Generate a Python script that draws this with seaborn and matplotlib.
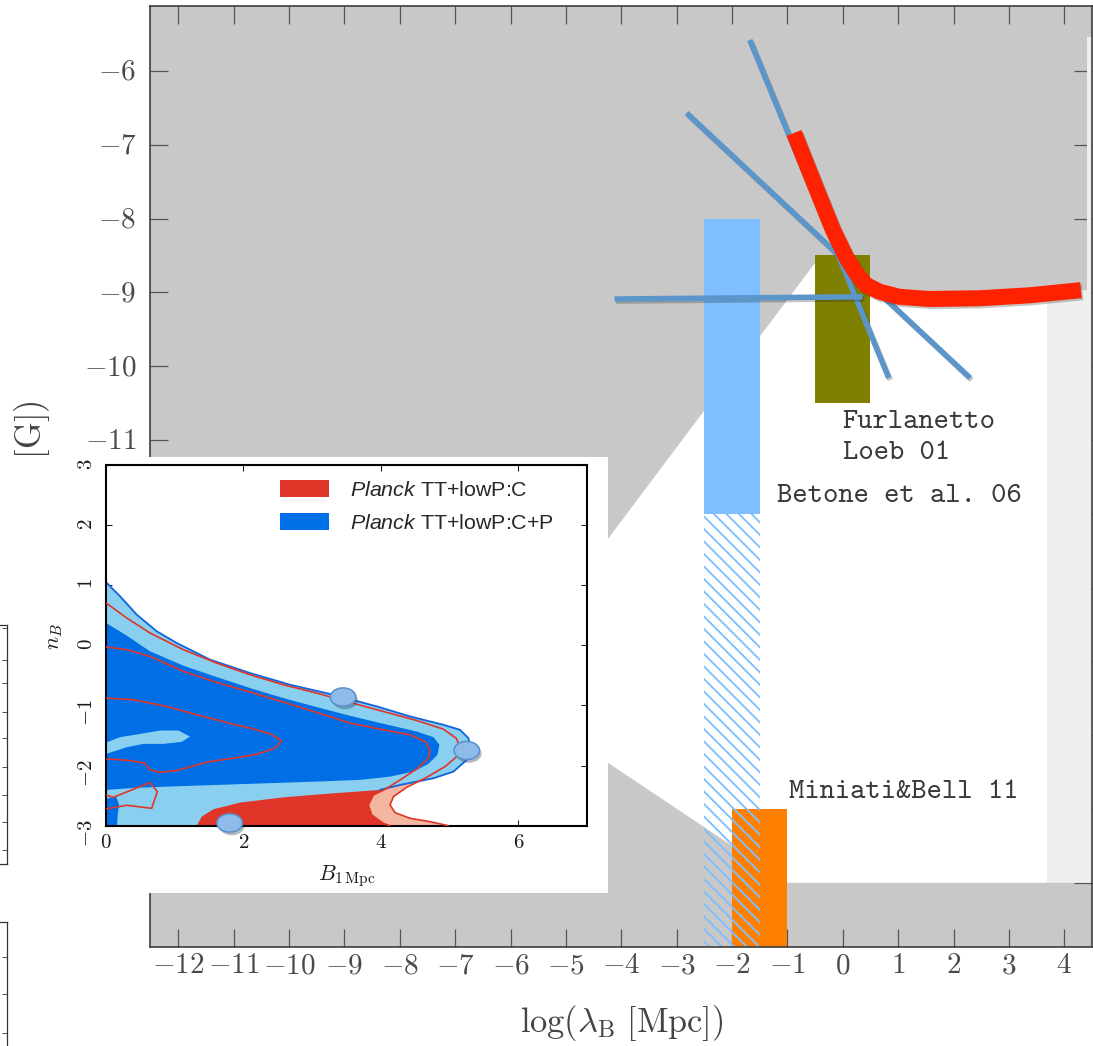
import matplotlib
matplotlib.use("Agg")
import matplotlib.pyplot as plt
import matplotlib.patheffects as pe
from matplotlib.patches import Patch
from matplotlib.path import Path
import numpy as np
import seaborn as sns

# ---------------- main plane: log(lambda_B) vs log(B) ----------------
x_ticks = list(range(-12, 5))
x_tick_labels = ["$-12$", "$-11$", "$-10$", "$-9$", "$-8$", "$-7$", "$-6$", "$-5$", "$-4$",
                 "$-3$", "$-2$", "$-1$", "$0$", "$1$", "$2$", "$3$", "$4$"]
y_ticks = list(range(-17, -5))
y_tick_labels = ["", "", "", "", "", "", "$-11$", "$-10$", "$-9$", "$-8$", "$-7$", "$-6$"]

# upper limit (thick red curve)
limit_lam = [-0.88, -0.54, -0.18, 0.06, 0.24, 0.42, 0.66, 1.02, 1.56, 2.47, 3.37, 4.30]
limit_B = [-6.84, -7.48, -8.15, -8.52, -8.74, -8.90, -8.99, -9.06, -9.09, -9.08, -9.04, -8.97]

# straight blue constraint lines
steep_lam = [-1.68, 0.83]
steep_B = [-5.58, -10.16]
slant_lam = [-2.82, 2.30]
slant_B = [-6.57, -10.16]
flat_lam = [-4.12, 0.36]
flat_B = [-9.09, -9.06]

# allowed (white) region and the pale strip on the right
allowed_lam = [-6.26, -0.40, 0.24, 0.42, 0.66, 1.02, 1.56, 2.47, 3.37, 3.70, 3.70, -1.00]
allowed_B = [-14.36, -8.50, -8.74, -8.90, -8.99, -9.06, -9.09, -9.08, -9.04, -9.02, -17.00, -17.00]
edge_lam = [3.70, 3.70, 4.30, 4.41, 4.41, 4.60, 4.60]
edge_B = [-17.00, -9.02, -8.97, -8.97, -5.54, -5.54, -17.00]

# observational boxes: Betone et al. 06, Furlanetto & Loeb 01, Miniati & Bell 11
betone_lam = [-2.5, -1.5]
betone_B = [-12.0, -8.0]
betone_hatch_B = [-18.0, -12.0]
furlanetto_lam = [-0.5, 0.5]
furlanetto_B = [-10.5, -8.5]
miniati_lam = [-2.0, -1.0]
miniati_B = [-18.0, -16.0]

# ---------------- inset: B_1Mpc vs n_B ----------------
inset_x_ticks = [0, 2, 4, 6]
inset_x_labels = ["$0$", "$2$", "$4$", "$6$"]
inset_y_ticks = [-3, -2, -1, 0, 1, 2, 3]
inset_y_labels = ["$-3$", "$-2$", "$-1$", "$0$", "$1$", "$2$", "$3$"]

# C+P, 95% region (light blue)
cp95_B = [0.0, 0.204, 0.446, 0.738, 1.029, 1.514, 2.096, 2.678, 3.309, 3.940, 4.425, 4.910,
          5.153, 5.274, 5.308, 5.250, 5.056, 4.765, 4.280, 3.988, 3.309, 2.581, 1.950,
          1.562, 1.393, 1.320, 0.0]
cp95_n = [1.05, 0.817, 0.512, 0.234, 0.039, -0.238, -0.461, -0.655, -0.822, -1.016, -1.183,
          -1.322, -1.405, -1.544, -1.711, -1.905, -2.100, -2.211, -2.322, -2.405, -2.461,
          -2.528, -2.616, -2.727, -2.849, -3.0, -3.0]
# C+P, 68% region (dark blue)
cp68_B = [0.0, 0.301, 0.640, 1.126, 1.611, 2.096, 2.581, 3.066, 3.552, 4.037, 4.522, 4.765,
          4.852, 4.823, 4.692, 4.474, 4.134, 3.697, 3.066, 2.339, 1.611, 0.883, 0.398, 0.0]
cp68_n = [0.373, 0.162, -0.099, -0.338, -0.527, -0.711, -0.877, -1.027, -1.172, -1.305,
          -1.433, -1.527, -1.655, -1.822, -1.972, -2.100, -2.183, -2.238, -2.266, -2.294,
          -2.322, -2.350, -2.372, -2.405]
cp68_low_B = [0.0, 0.15, 0.19, 0.17, 0.16, 0.0]
cp68_low_n = [-2.55, -2.52, -2.65, -2.82, -3.0, -3.0]
# 95% hole inside the dark blue region
cp_hole_B = [0.0, 0.204, 0.495, 0.786, 1.053, 1.223, 1.101, 0.835, 0.543, 0.301, 0.107, 0.0]
cp_hole_n = [-1.617, -1.528, -1.473, -1.417, -1.417, -1.517, -1.605, -1.639, -1.639,
             -1.695, -1.767, -1.806]

# C only, 95% (salmon) and 68% (red) regions
c95_B = [0.0, 0.301, 0.640, 1.126, 1.611, 2.096, 2.581, 3.066, 3.552, 4.037, 4.522, 4.910,
         5.095, 5.153, 5.104, 4.935, 4.668, 4.377, 4.183, 4.134, 4.207, 4.425, 4.716, 4.983]
c95_n = [0.706, 0.456, 0.206, -0.072, -0.294, -0.489, -0.655, -0.794, -0.950, -1.100,
         -1.250, -1.394, -1.544, -1.694, -1.850, -2.016, -2.195, -2.361, -2.516, -2.655,
         -2.783, -2.877, -2.933, -3.0]
c68_B = [0.0, 0.301, 0.640, 1.126, 1.611, 2.096, 2.581, 3.066, 3.552, 4.037, 4.425, 4.643,
         4.716, 4.692, 4.522, 4.280, 4.061, 3.891, 3.819, 3.867, 4.037, 4.134]
c68_n = [-0.028, -0.072, -0.183, -0.433, -0.616, -0.777, -0.944, -1.116, -1.294, -1.405,
         -1.489, -1.600, -1.739, -1.878, -2.055, -2.239, -2.395, -2.489, -2.655, -2.822,
         -2.961, -3.0]
c68_loop_B = [0.0, 0.398, 0.883, 1.320, 1.756, 2.096, 2.387, 2.557, 2.460, 2.193, 1.853,
              1.514, 1.271, 1.029, 0.786, 0.640, 0.568, 0.349, 0.107, 0.0]
c68_loop_n = [-0.878, -0.905, -1.016, -1.155, -1.283, -1.378, -1.472, -1.583, -1.711,
              -1.811, -1.878, -1.933, -2.005, -2.083, -2.111, -2.072, -1.961, -1.917,
              -1.895, -1.895]
c68_bit_B = [0.0, 0.107, 0.640, 0.747, 0.665, 0.30, 0.0]
c68_bit_n = [-2.494, -2.528, -2.283, -2.433, -2.711, -2.66, -2.72]

# marked points on the contours
ball_B = [3.45, 5.25, 1.80]
ball_n = [-0.86, -1.75, -2.955]

legend_labels = [r"$\mathsf{Planck}$ TT+lowP:C", r"$\mathsf{Planck}$ TT+lowP:C+P"]

# ---------------- colours ----------------
GRAY = "#c8c8c8"
PALE = "#efefef"
LIGHT_BLUE_BAR = "#80bfff"
OLIVE = "#808000"
ORANGE = "#ff8000"
LINE_BLUE = "#5b95c9"
LIMIT_RED = "#ff2200"
CP95 = "#89cff0"
CP68 = "#006fe6"
C95 = "#f5b6a0"
C68 = "#e0362a"
TEXT = "#3a3a3a"
TT = "cmtt10"

sns.set_theme(style="ticks")
plt.rcParams.update({
    "font.family": TT,
    "axes.unicode_minus": False,
    "mathtext.fontset": "custom",
    "mathtext.rm": "cmr10",
    "mathtext.it": "cmmi10",
    "mathtext.bf": "cmb10",
    "mathtext.sf": "Liberation Sans:italic",
    "mathtext.fallback": "cm",
    "hatch.linewidth": 1.8,
})

W, H, DPI = 1093, 1046, 75
fig = plt.figure(figsize=(W / DPI, H / DPI), dpi=DPI)
fig.patch.set_facecolor("white")

ax = fig.add_axes([150 / W, (H - 947) / H, (1092 - 150) / W, (947 - 6) / H], zorder=1)
ax.set_facecolor(GRAY)
ax.fill(allowed_lam, allowed_B, color="white", lw=0, zorder=0.5)
ax.fill(edge_lam, edge_B, color=PALE, lw=0, zorder=0.6)


def box(a, lam, B, **kw):
    a.bar(lam[0], B[1] - B[0], width=lam[1] - lam[0], bottom=B[0], align="edge", **kw)


box(ax, miniati_lam, miniati_B, color=ORANGE, lw=0, zorder=1)
box(ax, betone_lam, betone_B, color=LIGHT_BLUE_BAR, lw=0, zorder=1.1)
box(ax, betone_lam, betone_hatch_B, facecolor="none", edgecolor=LIGHT_BLUE_BAR,
    hatch="\\\\", lw=0, zorder=1.2)
box(ax, furlanetto_lam, furlanetto_B, color=OLIVE, lw=0, zorder=1.3)

shadow = [pe.SimpleLineShadow(offset=(1.5, -2), alpha=0.25, shadow_color="k"), pe.Normal()]
for lx, ly in [(steep_lam, steep_B), (slant_lam, slant_B), (flat_lam, flat_B)]:
    sns.lineplot(x=lx, y=ly, ax=ax, color=LINE_BLUE, lw=5.3, sort=False, estimator=None, zorder=2)
    ax.lines[-1].set_path_effects(shadow)
    ax.lines[-1].set_solid_capstyle("butt")
sns.lineplot(x=limit_lam, y=limit_B, ax=ax, color=LIMIT_RED, lw=15.4, sort=False,
             estimator=None, zorder=3)
ax.lines[-1].set_path_effects(shadow)
ax.lines[-1].set_solid_capstyle("butt")

label_kw = dict(fontsize=28, color=TEXT, family=TT, zorder=4)
ax.text(0.0, -10.77, "Furlanetto", va="center", ha="left", **label_kw)
ax.text(0.0, -11.18, "Loeb 01", va="center", ha="left", **label_kw)
ax.text(-1.18, -11.77, "Betone et al. 06", va="center", ha="left", **label_kw)
ax.text(-0.98, -15.77, "Miniati&Bell 11", va="center", ha="left", **label_kw)

ax.set_xlim(-12.51, 4.50)
ax.set_ylim(-17.87, -5.12)
ax.set_xticks(x_ticks, x_tick_labels)
ax.set_yticks(y_ticks, y_tick_labels)
ax.tick_params(direction="in", top=True, right=True, length=17, width=1.2,
               color="#555555", labelsize=28, labelcolor="#4a4a4a")
ax.tick_params(axis="x", pad=8)
ax.tick_params(axis="y", pad=13)
for s in ax.spines.values():
    s.set_color("#333333")
    s.set_linewidth(1.5)
ax.set_xlabel(r"$\mathrm{log}(\lambda_{\mathrm{B}}\ [\mathrm{Mpc}])$", fontsize=33, color="#444444")
ax.xaxis.set_label_coords(0.501, -0.060)
ax.set_ylabel(r"$\mathrm{log}(B_{\lambda}\ [\mathrm{G}])$", fontsize=33, color="#444444", ha="right")
ax.yaxis.set_label_coords(-0.104, 0.581)

# ---------------- inset panel ----------------
bg = fig.add_axes([0, (H - 893) / H, 608 / W, (893 - 457) / H], zorder=5)
bg.set_facecolor("white")
bg.set_xticks([])
bg.set_yticks([])
for s in bg.spines.values():
    s.set_visible(False)

ins = fig.add_axes([106 / W, (H - 825.7) / H, 481 / W, 360.7 / H], zorder=6)
ins.set_facecolor("white")
c95_fill_B = c95_B + [0.0]
c95_fill_n = c95_n + [-3.0]
c68_fill_B = c68_B + [0.0]
c68_fill_n = c68_n + [-3.0]
ins.fill(c95_fill_B, c95_fill_n, color=C95, lw=0, zorder=1)
ins.fill(c68_fill_B, c68_fill_n, color=C68, lw=0, zorder=1.1)
ins.fill(cp95_B, cp95_n, color=CP95, lw=0, zorder=2)
ins.fill(cp68_B, cp68_n, color=CP68, lw=0, zorder=2.1)
ins.fill(cp68_low_B, cp68_low_n, color=CP68, lw=0, zorder=2.1)
ins.fill(cp_hole_B, cp_hole_n, color=CP95, lw=0, zorder=2.2)
sns.lineplot(x=cp95_B[:20], y=cp95_n[:20], ax=ins, color="#1566dc", lw=1.8, sort=False,
             estimator=None, zorder=2.3)
for lx, ly in [(c95_B, c95_n), (c68_B, c68_n), (c68_loop_B, c68_loop_n), (c68_bit_B, c68_bit_n)]:
    sns.lineplot(x=lx, y=ly, ax=ins, color=C68, lw=1.6, sort=False, estimator=None, zorder=3)

circ = Path.unit_circle()
ellipse = Path(circ.vertices * np.array([1.4, 1.0]), circ.codes)
sns.scatterplot(x=ball_B, y=ball_n, ax=ins, marker=ellipse, s=600, color="#8dbbea",
                edgecolor="#5c8fd0", linewidth=1.5, zorder=4, clip_on=False)
ins.collections[-1].set_path_effects([pe.SimplePatchShadow(offset=(2, -3), alpha=0.35), pe.Normal()])

ins.set_xlim(0, 7)
ins.set_ylim(-3, 3)
ins.set_xticks(inset_x_ticks, inset_x_labels)
ins.set_yticks(inset_y_ticks, inset_y_labels)
ins.tick_params(direction="in", top=True, right=True, length=6, width=1, color="k",
                labelsize=20, labelcolor="k")
ins.tick_params(axis="x", pad=9)
ins.tick_params(axis="y", pad=9, labelrotation=90)
for s in ins.spines.values():
    s.set_color("black")
    s.set_linewidth(2)
ins.set_xlabel(r"$B_{1\,\mathrm{Mpc}}$", fontsize=21, color="k")
ins.xaxis.set_label_coords(0.501, -0.105)
ins.set_ylabel(r"$n_B$", fontsize=21, color="k")
ins.yaxis.set_label_coords(-0.085, 0.523)

handles = [Patch(facecolor=C68, edgecolor="none"), Patch(facecolor="#0070e8", edgecolor="none")]
ins.legend(handles, legend_labels, loc="upper left", bbox_to_anchor=(0.362, 0.958),
           frameon=False, borderpad=0, borderaxespad=0, handlelength=2.3, handleheight=0.85,
           handletextpad=0.95, labelspacing=0.6,
           prop={"family": "Liberation Sans", "size": 20.5})

# ---------------- neighbouring panel edges at the far left ----------------
frag1 = fig.add_axes([-0.2, (H - 864) / H, 0.2 + 6.7 / W, (864 - 625) / H], zorder=7)
frag2 = fig.add_axes([-0.2, -0.05, 0.2 + 6.7 / W, 0.05 + (H - 922) / H], zorder=7)
frag1_ticks = [0.987, 0.854, 0.757, 0.636, 0.527, 0.406, 0.289, 0.176, 0.059]
frag2_ticks = [0.80, 0.59, 0.37, 0.16]
for fa, tk in [(frag1, frag1_ticks), (frag2, frag2_ticks)]:
    fa.set_facecolor("white")
    fa.set_xticks([])
    fa.set_ylim(0, 1)
    fa.set_yticks(tk)
    fa.tick_params(axis="y", direction="in", left=False, right=True, labelleft=False,
                   length=5, width=0.8, color="#333333")
    for s in fa.spines.values():
        s.set_color("#333333")
        s.set_linewidth(1.2)

fig.savefig("out.png", dpi=DPI)
